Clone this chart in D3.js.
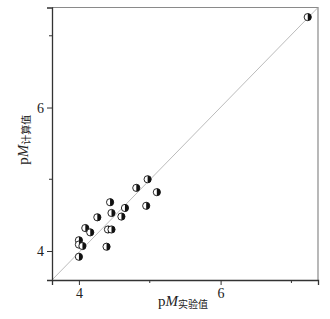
<!DOCTYPE html>
<html lang="zh">
  <head>
    <meta charset="UTF-8" />
    <title>pM</title>
    <script src="https://cdn.jsdelivr.net/npm/d3@7/dist/d3.min.js"></script>
    <style>
      body { margin: 0; background: #fff; }
      text { font-family: "Liberation Serif", serif; fill: #222; }
      .cjk { font-family: "Noto Sans CJK SC", sans-serif; }
    </style>
  </head>
  <body>
    <div id="chart"></div>
    <script>
      // experimental vs calculated pM
      var pmExp = [4.97, 4.81, 5.10, 4.95, 4.44, 4.65, 4.46, 4.60, 4.26, 4.09, 4.16, 4.41, 4.46, 4.00, 4.00, 4.05, 4.39, 4.00, 7.23];
      var pmCalc = [5.00, 4.88, 4.82, 4.63, 4.68, 4.60, 4.53, 4.48, 4.47, 4.32, 4.26, 4.30, 4.30, 4.15, 4.09, 4.07, 4.06, 3.92, 7.26];
      var majorTicks = [4, 6];
      var minorTicks = [5, 7];

      var width = 330, height = 319;
      var margin = {top: 7.5, right: 12, bottom: 39, left: 52};

      var svg = d3.select("#chart").append("svg")
                  .attr("width", width)
                  .attr("height", height);

      var x = d3.scaleLinear()
                .domain([3.62, 7.375])
                .range([margin.left, width - margin.right]);
      var y = d3.scaleLinear()
                .domain([3.596, 7.394])
                .range([height - margin.bottom, margin.top]);

      var x0 = x.range()[0], x1 = x.range()[1];
      var y0 = y.range()[0], y1 = y.range()[1];

      // frame: top and right light
      svg.append("path")
         .attr("d", "M" + x0 + "," + y1 + "H" + x1 + "V" + y0)
         .attr("fill", "none")
         .attr("stroke", "#8a8a8a")
         .attr("stroke-width", 1.2);

      // y = x reference line, corner to corner
      svg.append("line")
         .attr("x1", x0).attr("y1", y0)
         .attr("x2", x1).attr("y2", y1)
         .attr("stroke", "#aaa")
         .attr("stroke-width", 0.8);

      // axes
      var xAxis = d3.axisBottom(x).tickValues(majorTicks).tickSize(5).tickPadding(3).tickFormat(d3.format("d"));
      var yAxis = d3.axisLeft(y).tickValues(majorTicks).tickSize(5).tickPadding(3).tickFormat(d3.format("d"));

      var gx = svg.append("g")
         .attr("transform", "translate(0," + y0 + ")")
         .call(xAxis);
      gx.append("g").selectAll("line").data(minorTicks).enter().append("line")
         .attr("x1", function(d){ return x(d); }).attr("x2", function(d){ return x(d); })
         .attr("y1", 0).attr("y2", 3)
         .attr("stroke", "#333");

      var gy = svg.append("g")
         .attr("transform", "translate(" + x0 + ",0)")
         .call(yAxis);
      gy.append("g").selectAll("line").data(minorTicks).enter().append("line")
         .attr("y1", function(d){ return y(d); }).attr("y2", function(d){ return y(d); })
         .attr("x1", 0).attr("x2", -3)
         .attr("stroke", "#333");

      [gx, gy].forEach(function(g){
        g.select(".domain").attr("stroke", "#333").attr("stroke-width", 1.3);
        g.selectAll(".tick line").attr("stroke", "#333");
        g.selectAll(".tick text")
         .style("font-family", "'Liberation Serif', serif")
         .attr("font-size", 14)
         .attr("fill", "#333");
      });

      // half filled markers
      var r = 3.6;
      var pts = svg.append("g").selectAll("g")
         .data(pmExp)
         .enter()
         .append("g")
         .attr("transform", function(d, i){ return "translate(" + x(d) + "," + y(pmCalc[i]) + ")"; });
      pts.append("circle")
         .attr("r", r)
         .attr("fill", "#fff")
         .attr("stroke", "#111")
         .attr("stroke-width", 0.9);
      pts.append("path")
         .attr("d", "M0," + (-r) + "A" + r + "," + r + " 0 0 1 0," + r + "Z")
         .attr("fill", "#111");

      // axis titles
      var xt = svg.append("text")
         .attr("x", (x0 + x1) / 2 - 2)
         .attr("y", 306)
         .attr("text-anchor", "middle")
         .attr("font-size", 15);
      xt.append("tspan").text("p");
      xt.append("tspan").attr("font-style", "italic").text("M");
      xt.append("tspan").attr("class", "cjk").attr("font-size", 10).attr("dy", 2).text("实验值");

      var yt = svg.append("text")
         .attr("transform", "translate(28," + ((y0 + y1) / 2 - 4) + ") rotate(-90)")
         .attr("text-anchor", "middle")
         .attr("font-size", 15);
      yt.append("tspan").text("p");
      yt.append("tspan").attr("font-style", "italic").text("M");
      yt.append("tspan").attr("class", "cjk").attr("font-size", 10).attr("dy", 2).text("计算值");
    </script>
  </body>
</html>
